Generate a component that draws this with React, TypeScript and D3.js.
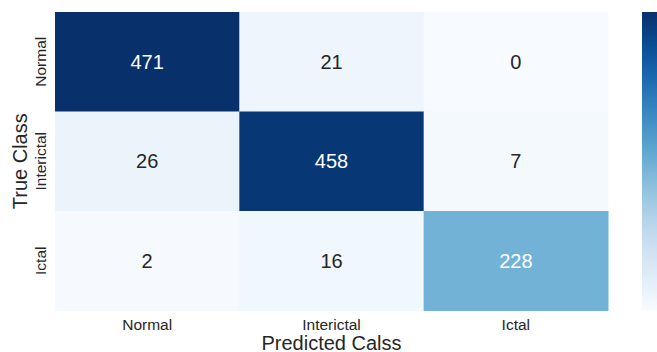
import React from "react";
import * as d3 from "d3";

const trueClasses = ["Normal", "Interictal", "Ictal"];
const predClasses = ["Normal", "Interictal", "Ictal"];
const rowNormal = [471, 21, 0];
const rowInterictal = [26, 458, 7];
const rowIctal = [2, 16, 228];
const matrix = [rowNormal, rowInterictal, rowIctal];
const xTitle = "Predicted Calss";
const yTitle = "True Class";

const W = 657;
const H = 352;
const left = 55;
const right = 608;
const top = 12;
const bottom = 310.5;

function luminance(col: string) {
  const c = d3.rgb(col);
  const lin = (v: number) => {
    const s = v / 255;
    return s <= 0.03928 ? s / 12.92 : Math.pow((s + 0.055) / 1.055, 2.4);
  };
  return 0.2126 * lin(c.r) + 0.7152 * lin(c.g) + 0.0722 * lin(c.b);
}

export default function App() {
  const x = d3.scaleBand<string>().domain(predClasses).range([left, right]);
  const y = d3.scaleBand<string>().domain(trueClasses).range([top, bottom]);
  const vmax = d3.max(matrix.flat()) as number;
  const color = d3.scaleSequential(d3.interpolateBlues).domain([0, vmax]);
  const stops = d3.range(0, 1.0001, 0.05);
  const font = "'Liberation Sans', Arial, sans-serif";
  const textDark = "#262626";

  return (
    <svg
      width={W}
      height={H}
      style={{ position: "absolute", left: 0, top: 0, background: "#fff" }}
      fontFamily={font}
    >
      <defs>
        <linearGradient id="cb" x1="0" y1="1" x2="0" y2="0">
          {stops.map((s) => (
            <stop key={s} offset={s} stopColor={d3.interpolateBlues(s)} />
          ))}
        </linearGradient>
      </defs>
      {matrix.map((row, i) =>
        row.map((v, j) => {
          const fill = color(v);
          const dark = luminance(fill) > 0.408;
          return (
            <g key={`${i}-${j}`}>
              <rect
                x={x(predClasses[j])}
                y={y(trueClasses[i])}
                width={x.bandwidth() + 0.5}
                height={y.bandwidth() + 0.5}
                fill={fill}
              />
              <text
                x={(x(predClasses[j]) as number) + x.bandwidth() / 2}
                y={(y(trueClasses[i]) as number) + y.bandwidth() / 2}
                textAnchor="middle"
                dominantBaseline="central"
                fontSize={20}
                fill={dark ? textDark : "#ffffff"}
              >
                {v}
              </text>
            </g>
          );
        })
      )}
      {predClasses.map((p) => (
        <text
          key={p}
          x={(x(p) as number) + x.bandwidth() / 2}
          y={330}
          textAnchor="middle"
          fontSize={15.5}
          fill={textDark}
        >
          {p}
        </text>
      ))}
      {trueClasses.map((t) => {
        const cy = (y(t) as number) + y.bandwidth() / 2;
        return (
          <text
            key={t}
            transform={`translate(46,${cy}) rotate(-90)`}
            textAnchor="middle"
            fontSize={15.5}
            fill={textDark}
          >
            {t}
          </text>
        );
      })}
      <text x={(left + right) / 2} y={349.5} textAnchor="middle" fontSize={20} fill={textDark}>
        {xTitle}
      </text>
      <text
        transform={`translate(27,${(top + bottom) / 2}) rotate(-90)`}
        textAnchor="middle"
        fontSize={20}
        fill={textDark}
      >
        {yTitle}
      </text>
      <rect x={642} y={top} width={15} height={bottom - top} fill="url(#cb)" />
    </svg>
  );
}
